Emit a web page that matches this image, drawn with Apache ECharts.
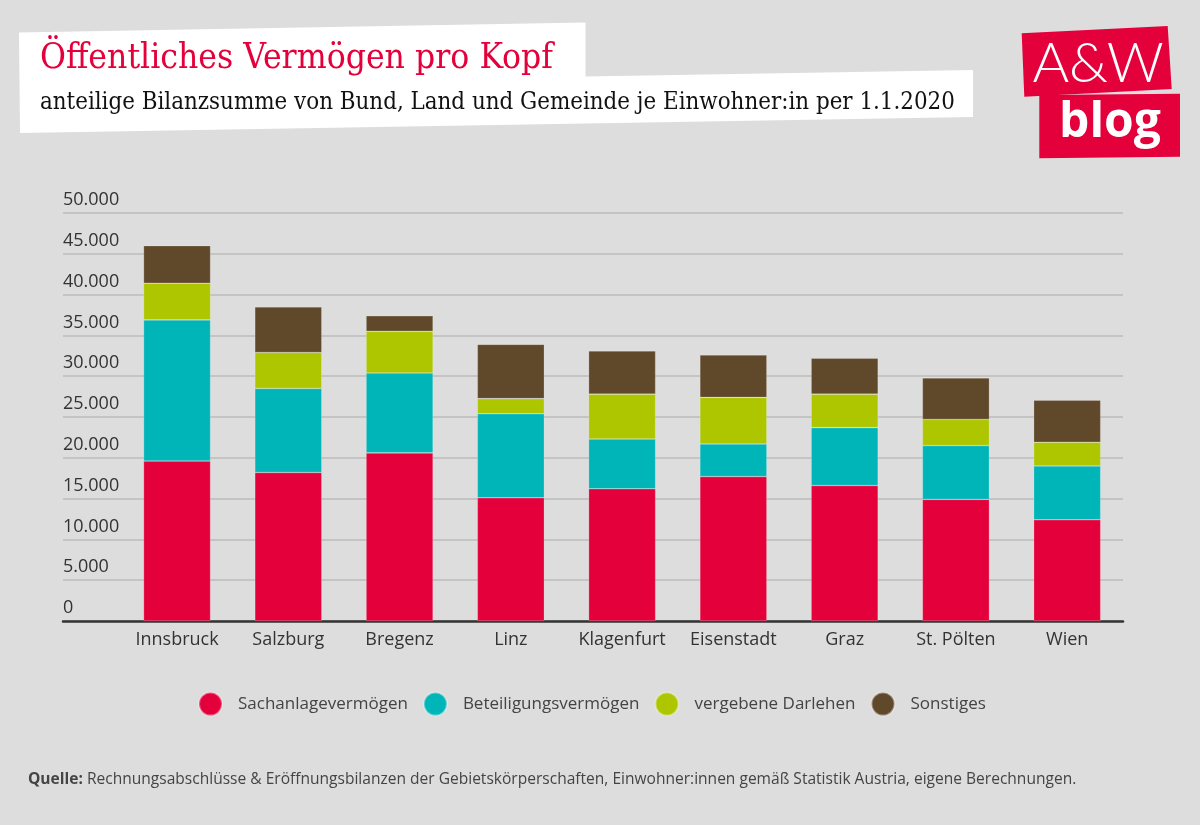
<!DOCTYPE html>
<html>
<head>
<meta charset="utf-8">
<script src="https://cdn.jsdelivr.net/npm/echarts@6/dist/echarts.min.js"></script>
<style>
html,body{margin:0;padding:0;background:#dddddd;}
#chart{width:1200px;height:825px;}
</style>
</head>
<body>
<div id="chart"></div>
<script>
// ---- Data ----
const categories = ['Innsbruck','Salzburg','Bregenz','Linz','Klagenfurt','Eisenstadt','Graz','St. Pölten','Wien'];
const seriesNames = ['Sachanlagevermögen','Beteiligungsvermögen','vergebene Darlehen','Sonstiges'];
const sachanlage   = [19600,18200,20600,15100,16200,17700,16600,14900,12400];
const beteiligung  = [17300,10300, 9800,10300, 6100, 4000, 7100, 6600, 6600];
const darlehen     = [ 4500, 4400, 5100, 1850, 5500, 5700, 4100, 3200, 2900];
const sonstiges    = [ 4600, 5600, 1900, 6650, 5300, 5200, 4400, 5100, 5150];
const yMin = 0, yMax = 50000, yStep = 5000;
const titleText = 'Öffentliches Vermögen pro Kopf';
const subtitleText = 'anteilige Bilanzsumme von Bund, Land und Gemeinde je Einwohner:in per 1.1.2020';
const sourceLabel = 'Quelle:';
const sourceText = ' Rechnungsabschlüsse & Eröffnungsbilanzen der Gebietskörperschaften, Einwohner:innen gemäß Statistik Austria, eigene Berechnungen.';

// ---- Styling ----
const colors = ['#e4003a','#00b5b8','#adc600','#60482a'];
const RED = '#e4003a';

function fmt(v){ return String(v).replace(/\B(?=(\d{3})+(?!\d))/g,'.'); }

const cvs = document.createElement('canvas').getContext('2d');
function fitSize(text, family, weight, target){
  cvs.font = weight + ' 100px ' + family;
  const w = cvs.measureText(text).width;
  return 100 * target / w;
}
const titleFam = '"DejaVu Serif Condensed","DejaVu Serif",serif';
const titleSize = fitSize(titleText, titleFam, 'normal', 513);
const subSize = fitSize(subtitleText, titleFam, 'normal', 915);
const srcFam = '"Liberation Sans Narrow","Open Sans",sans-serif';
cvs.font = 'bold 100px ' + srcFam;
const wq = cvs.measureText(sourceLabel).width;
cvs.font = 'normal 100px ' + srcFam;
const wr = cvs.measureText(sourceText).width;
const srcSize = 100 * 1049 / (wq + wr);

const chart = echarts.init(document.getElementById('chart'), null, {renderer:'canvas'});

const dataArrays = [sachanlage, beteiligung, darlehen, sonstiges];
const series = dataArrays.map((arr, i) => ({
  name: seriesNames[i],
  type: 'bar',
  stack: 'total',
  xAxisIndex: 1,
  yAxisIndex: 1,
  barWidth: 67,
  itemStyle: {color: colors[i], borderColor: 'rgba(255,255,255,0.35)', borderWidth: 0.6},
  emphasis: {disabled: true},
  data: arr
}));

const option = {
  backgroundColor: '#dddddd',
  animation: false,
  color: colors,
  grid: [
    {left: 63, right: 77, top: 213, height: 408},
    {left: 121.4, right: 77.2, top: 213, height: 408}
  ],
  xAxis: [
    {type: 'value', gridIndex: 0, min: 0, max: 1, show: true,
     axisLine: {show: true, onZero: false, lineStyle: {color: '#333333', width: 2.5}},
     axisTick: {show: false}, axisLabel: {show: false}, splitLine: {show: false}},
    {type: 'category', gridIndex: 1, data: categories,
     axisLine: {show: false}, axisTick: {show: false},
     axisLabel: {interval: 0, color: '#333333', fontSize: 18, fontFamily: '"Open Sans",sans-serif', margin: 10}}
  ],
  yAxis: [
    {type: 'value', gridIndex: 0, min: yMin, max: yMax, interval: yStep,
     axisLine: {show: false}, axisTick: {show: false},
     axisLabel: {inside: true, margin: 0, color: '#333333', fontSize: 18,
                 fontFamily: '"Open Sans",sans-serif', verticalAlign: 'bottom',
                 padding: [0,0,4,0], formatter: v => fmt(v)},
     splitLine: {lineStyle: {color: '#bbbbbb', width: 1.5}}},
    {type: 'value', gridIndex: 1, min: yMin, max: yMax, interval: yStep, show: false,
     splitLine: {show: false}}
  ],
  legend: {
    data: seriesNames,
    left: 198, top: 691.5, padding: 0,
    icon: 'circle', itemWidth: 23, itemHeight: 23, itemGap: 15,
    selectedMode: false,
    textStyle: {color: '#444444', fontSize: 17, fontFamily: '"Open Sans",sans-serif', padding: [0,0,0,11]}
  },
  series: series,
  graphic: [
    {type: 'polygon', z: 10, shape: {points: [[19,32.5],[585.5,22.5],[585.5,76.5],[973,70],[973,117],[20,133]]},
     style: {fill: '#ffffff'}},
    {type: 'text', z: 11, x: 40, y: 58.5,
     style: {text: titleText, fill: RED, font: 'normal ' + titleSize.toFixed(2) + 'px ' + titleFam, verticalAlign: 'middle'}},
    {type: 'text', z: 11, x: 40, y: 102.5,
     style: {text: subtitleText, fill: '#111111', font: 'normal ' + subSize.toFixed(2) + 'px ' + titleFam, verticalAlign: 'middle'}},
    {type: 'polygon', z: 10, shape: {points: [[1021.7,33.3],[1167.7,26],[1171.7,89],[1024.3,96.7]]},
     style: {fill: RED}},
    {type: 'polygon', z: 10, shape: {points: [[1039.3,95],[1180,93.7],[1180,156.7],[1039.3,158.3]]},
     style: {fill: RED}},
    {type: 'text', z: 11, x: 1098, y: 64,
     style: {text: 'A&W', fill: '#ffffff', font: '300 56px Lato,"Open Sans",sans-serif', align: 'center', verticalAlign: 'middle'}},
    {type: 'text', z: 11, x: 1110, y: 123,
     style: {text: 'blog', fill: '#ffffff', font: 'bold 48px "Open Sans",sans-serif', align: 'center', verticalAlign: 'middle'}},
    {type: 'text', z: 11, x: 28, y: 779.5,
     style: {text: '{b|' + sourceLabel + '}{r|' + sourceText + '}', verticalAlign: 'middle',
       rich: {
         b: {fontWeight: 'bold', fontSize: srcSize, fontFamily: srcFam, fill: '#444444', color: '#444444'},
         r: {fontWeight: 'normal', fontSize: srcSize, fontFamily: srcFam, fill: '#444444', color: '#444444'}
       }}}
  ]
};
chart.setOption(option);
</script>
</body>
</html>
